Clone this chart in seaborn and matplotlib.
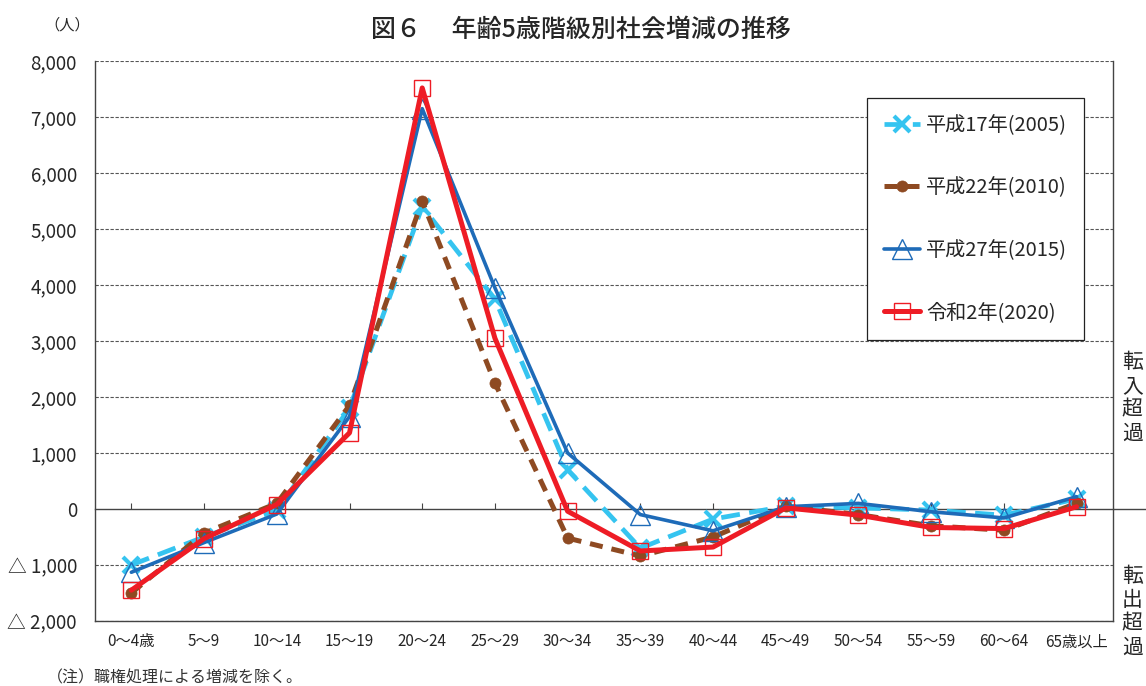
import numpy as np
import pandas as pd
import matplotlib
matplotlib.use("Agg")
import matplotlib.pyplot as plt
import matplotlib.transforms as mtransforms
from matplotlib.lines import Line2D
from matplotlib.ticker import FuncFormatter
import seaborn as sns

# --- data ---
ages = ["0～4歳", "5～9", "10～14", "15～19", "20～24", "25～29", "30～34",
        "35～39", "40～44", "45～49", "50～54", "55～59", "60～64", "65歳以上"]

h17_2005 = [-1000, -500, -20, 1800, 5400, 3750, 700, -700, -180, 50, 20, -20, -110, 180]
h22_2010 = [-1500, -430, 100, 1850, 5500, 2250, -520, -840, -500, 50, -100, -300, -380, 100]
h27_2015 = [-1130, -600, -90, 1650, 7150, 3950, 1000, -100, -390, 40, 100, -50, -160, 220]
r2_2020 = [-1450, -530, 80, 1360, 7520, 3050, -40, -750, -680, 20, -110, -330, -350, 40]

series_labels = ["平成17年(2005)", "平成22年(2010)", "平成27年(2015)", "令和2年(2020)"]
yticks = list(range(-2000, 8001, 1000))

sns.set_style("white")
plt.rcParams["font.family"] = ["Noto Sans CJK JP", "DejaVu Sans"]

fig = plt.figure(figsize=(11.46, 6.86), dpi=100)
ax = fig.add_axes([0.0829, 0.0948, 0.8883, 0.8162])

styles = [
    dict(color="#35C4F0", linestyle=(0, (4, 2)), linewidth=3.4, marker="x",
         markersize=12, markeredgewidth=3.0),
    dict(color="#8E4A22", linestyle=(0, (2.6, 1.8)), linewidth=3.6, marker="o",
         markersize=8, markeredgewidth=0.5),
    dict(color="#1E6BB8", linestyle="-", linewidth=2.6, marker="^",
         markersize=14, markeredgewidth=1.0, markerfacecolor="none"),
    dict(color="#EE1C25", linestyle="-", linewidth=3.6, marker="s",
         markersize=12, markeredgewidth=1.0, markerfacecolor="none"),
]

for vals, lab, st in zip([h17_2005, h22_2010, h27_2015, r2_2020], series_labels, styles):
    df = pd.DataFrame({"age": ages, "value": vals})
    sns.lineplot(data=df, x="age", y="value", sort=False, label=lab, ax=ax,
                 markeredgecolor=st["color"], **st)

ax.set_xlim(-0.5, len(ages) - 0.5)
ax.set_ylim(-2000, 8000)
ax.set_yticks(yticks)
ax.yaxis.set_major_formatter(FuncFormatter(
    lambda v, p: "0" if v == 0 else (f"△ {abs(int(v)):,}" if v < 0 else f"{int(v):,}")))
ax.set_xlabel("")
ax.set_ylabel("")
ax.tick_params(axis="y", length=0, pad=13, labelsize=13.5)
ax.tick_params(axis="x", length=0, pad=9, labelsize=11)

# dashed gridlines
for v in yticks:
    if v != 0:
        ax.axhline(v, color="#555555", linestyle=(0, (3, 1.5)), linewidth=0.8, zorder=0)

for side in ["left", "bottom", "right"]:
    ax.spines[side].set_color("#444444")
    ax.spines[side].set_linewidth(1.0)
ax.spines["top"].set_visible(False)

# zero line with small ticks, extended to the right edge
sec = ax.secondary_xaxis(0.2)
sec.set_xticks(range(len(ages)))
sec.tick_params(axis="x", direction="in", length=4, width=0.8, color="#444444",
                labelbottom=False, labeltop=False)
sec.spines["bottom"].set_color("#444444")
sec.spines["bottom"].set_linewidth(1.0)
trans = mtransforms.blended_transform_factory(fig.transFigure, ax.transData)
fig.add_artist(Line2D([0.9712, 1.0], [0, 0], transform=trans, color="#444444", linewidth=1.0))

leg = ax.legend(loc="upper left", bbox_to_anchor=(0.758, 0.934), fontsize=14.5,
                frameon=True, fancybox=False, edgecolor="#222222", framealpha=1,
                labelspacing=2.05, borderpad=0.85, handlelength=1.8, handletextpad=0.3,
                borderaxespad=0)
leg.get_frame().set_linewidth(0.9)

fig.text(0.507, 0.957, "図６　 年齢5歳階級別社会増減の推移", ha="center", va="center",
         fontsize=18, fontweight="medium")
fig.text(0.059, 0.963, "（人）", ha="center", va="center", fontsize=11)
fig.text(0.041, 0.0117, "（注）職権処理による増減を除く。", ha="left", va="center",
         fontsize=11.5, color="#333333")
fig.text(0.988, 0.42, "\n".join("転入超過"), ha="center", va="center", fontsize=15,
         linespacing=1.1)
fig.text(0.988, 0.108, "\n".join("転出超過"), ha="center", va="center", fontsize=15,
         linespacing=1.1)

fig.savefig("out.png", dpi=100)
